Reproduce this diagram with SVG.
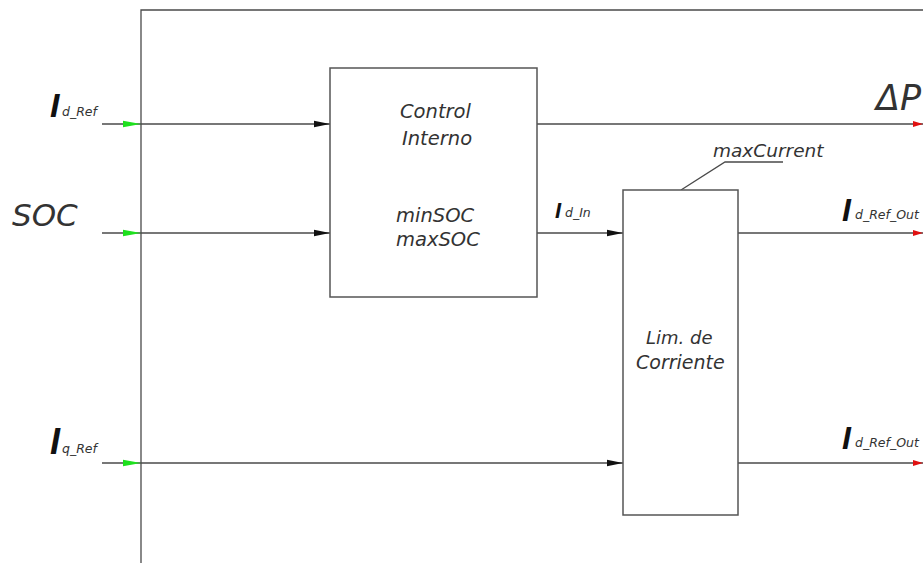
<svg xmlns="http://www.w3.org/2000/svg" width="923" height="563" viewBox="0 0 923 563">
<style>
.ln{stroke:#4a4a4a;stroke-width:1.3;fill:none}
.bx{stroke:#555;stroke-width:1.5;fill:#fff}
.t{font-family:"DejaVu Sans",sans-serif;font-style:italic;fill:#333}
.I{font-family:"Liberation Sans",sans-serif;font-style:italic;font-weight:bold;fill:#111}
.s{font-family:"DejaVu Sans",sans-serif;font-style:italic;fill:#333;font-size:12.5px}
</style>
<defs>
<marker id="ab" markerWidth="16" markerHeight="8" refX="16" refY="4" orient="auto" markerUnits="userSpaceOnUse"><path d="M0,0.8 L16,4 L0,7.2 Z" fill="#111"/></marker>
<marker id="ag" markerWidth="18" markerHeight="8" refX="18" refY="4" orient="auto" markerUnits="userSpaceOnUse"><path d="M0,0.8 L18,4 L0,7.2 Z" fill="#1ee01e"/></marker>
<marker id="ar" markerWidth="10" markerHeight="8" refX="10" refY="4" orient="auto" markerUnits="userSpaceOnUse"><path d="M0,1 L10,4 L0,7 Z" fill="#e01010"/></marker>
</defs>
<rect width="923" height="563" fill="#fff"/>
<g id="frame">
<path class="ln" d="M141,563 L141,10 L923,10"/>
</g>
<g id="connectors">
<line class="ln" x1="102" y1="124" x2="141" y2="124" marker-end="url(#ag)"/>
<line class="ln" x1="102" y1="233" x2="141" y2="233" marker-end="url(#ag)"/>
<line class="ln" x1="102" y1="463" x2="141" y2="463" marker-end="url(#ag)"/>
<line class="ln" x1="141" y1="124" x2="330" y2="124" marker-end="url(#ab)"/>
<line class="ln" x1="141" y1="233" x2="330" y2="233" marker-end="url(#ab)"/>
<line class="ln" x1="141" y1="463" x2="623" y2="463" marker-end="url(#ab)"/>
<line class="ln" x1="537" y1="124" x2="923" y2="124" marker-end="url(#ar)"/>
<line class="ln" x1="537" y1="233" x2="623" y2="233" marker-end="url(#ab)"/>
<line class="ln" x1="738" y1="233" x2="923" y2="233" marker-end="url(#ar)"/>
<line class="ln" x1="738" y1="463" x2="923" y2="463" marker-end="url(#ar)"/>
<path class="ln" d="M681,190 L725,162 L783,162"/>
</g>
<g id="control">
<rect class="bx" x="330" y="68" width="207" height="229"/>
<text class="t" font-size="19.5" x="400" y="118">Control</text>
<text class="t" font-size="19.5" x="402" y="145">Interno</text>
<text class="t" font-size="19.5" x="396" y="222">minSOC</text>
<text class="t" font-size="19.5" x="396" y="246">maxSOC</text>
</g>
<g id="limitador">
<rect class="bx" x="623" y="190" width="115" height="325"/>
<text class="t" font-size="18" x="646" y="344">Lim. de</text>
<text class="t" font-size="19" x="636" y="369">Corriente</text>
</g>
<g id="labels">
<text class="t" font-size="18.5" x="713" y="157">maxCurrent</text>
<text class="I" font-size="34" x="50" y="117">I</text><text class="s" x="62" y="116">d_Ref</text>
<text class="t" font-size="31" x="12" y="226">SOC</text>
<text class="I" font-size="36" x="50" y="454">I</text><text class="s" x="62" y="453">q_Ref</text>
<text class="t" font-size="35" x="876" y="110">ΔP</text>
<text class="I" font-size="22" x="555" y="218">I</text><text class="s" x="565" y="217">d_In</text>
<text class="I" font-size="32" x="842" y="221">I</text><text class="s" x="855" y="219">d_Ref_Out</text>
<text class="I" font-size="32" x="842" y="449">I</text><text class="s" x="855" y="447">d_Ref_Out</text>
</g>
</svg>
